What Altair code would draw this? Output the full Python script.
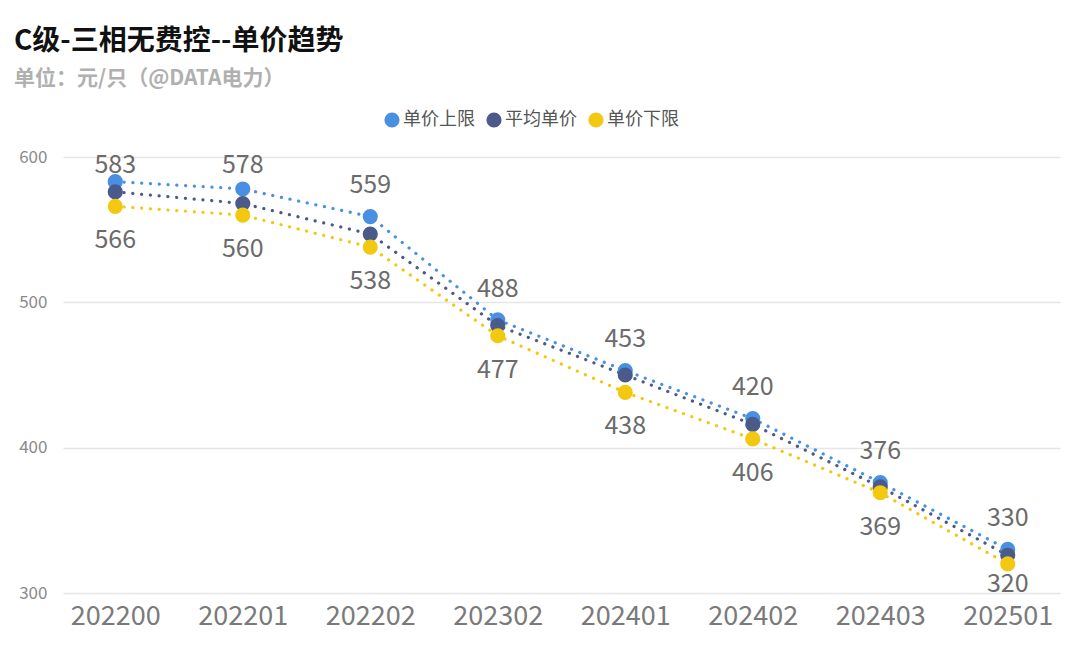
import altair as alt
import pandas as pd

categories = ["202200", "202201", "202202", "202302", "202401", "202402", "202403", "202501"]
upper = [583, 578, 559, 488, 453, 420, 376, 330]
average = [576, 568, 547, 484, 450, 416, 373, 326]
lower = [566, 560, 538, 477, 438, 406, 369, 320]
series_names = ["单价上限", "平均单价", "单价下限"]
series_colors = ["#4A90E2", "#4A5A8A", "#F2C811"]

rows = []
for i, c in enumerate(categories):
    rows.append({"period": c, "series": series_names[0], "value": upper[i]})
    rows.append({"period": c, "series": series_names[1], "value": average[i]})
    rows.append({"period": c, "series": series_names[2], "value": lower[i]})
df = pd.DataFrame(rows)

FONT = "Noto Sans CJK SC"

x = alt.X("period:N", sort=categories, title=None,
          scale=alt.Scale(type="point", padding=0.41),
          axis=alt.Axis(labelAngle=0, labelFontSize=27, labelColor="#7a7a7a",
                        labelFont=FONT, labelPadding=10, ticks=False, domain=False,
                        grid=False))
yscale = alt.Scale(domain=[300, 600], nice=False, zero=False)
yaxis = alt.Axis(values=[300, 400, 500, 600], labelFontSize=17,
                 labelColor="#8a8a8a", labelFont=FONT, labelPadding=16,
                 ticks=False, domain=False, gridColor="#e6e6e6",
                 gridWidth=1.5)
y = alt.Y("value:Q", title=None, scale=yscale, axis=yaxis)
color = alt.Color("series:N", sort=series_names,
                  scale=alt.Scale(domain=series_names, range=series_colors),
                  legend=alt.Legend(title=None, orient="none", direction="horizontal",
                                    legendX=320, legendY=-46, symbolType="circle",
                                    symbolSize=230, labelFontSize=18,
                                    labelColor="#555555", labelFont=FONT,
                                    columnPadding=10, labelOffset=2,
                                    symbolStrokeWidth=0))

base = alt.Chart(df)

lines = base.mark_line(strokeDash=[0.1, 8.7], strokeWidth=3.2, strokeCap="round").encode(
    x=x, y=y, color=color, detail="series:N")
points = base.mark_circle(size=230, opacity=1).encode(x=x, y=y, color=color)

label_y = alt.Y("label_pos:Q", title=None, scale=yscale, axis=yaxis)

upper_labels = base.transform_filter(alt.datum.series == series_names[0]).transform_calculate(
    label_pos="min(datum.value + 21.5, 594.5)").mark_text(
    baseline="middle", fontSize=25, color="#6b6b6b", font=FONT).encode(
    x=x, y=label_y, text="value:Q")
lower_labels = base.transform_filter(alt.datum.series == series_names[2]).transform_calculate(
    label_pos="max(datum.value - 23.3, 306)").mark_text(
    baseline="middle", fontSize=25, color="#6b6b6b", font=FONT).encode(
    x=x, y=label_y, text="value:Q")

chart = alt.layer(lines, points, upper_labels, lower_labels).properties(
    width=997, height=436,
    autosize=alt.AutoSizeParams(type="none"),
    padding={"left": 55, "top": 149, "right": 12, "bottom": 59},
    background="white",
    title=alt.TitleParams(
        text="C级-三相无费控--单价趋势",
        subtitle="单位：元/只（@DATA电力）",
        anchor="start", frame="group", dx=-49, offset=22,
        font=FONT, fontSize=28, fontWeight="bold", color="#111111",
        subtitleFont=FONT, subtitleFontSize=21, subtitleFontWeight="bold",
        subtitleColor="#b0b0b0", subtitlePadding=12),
).configure_view(stroke=None)

chart.save("out.html", embed_options={"renderer": "svg", "actions": False})
